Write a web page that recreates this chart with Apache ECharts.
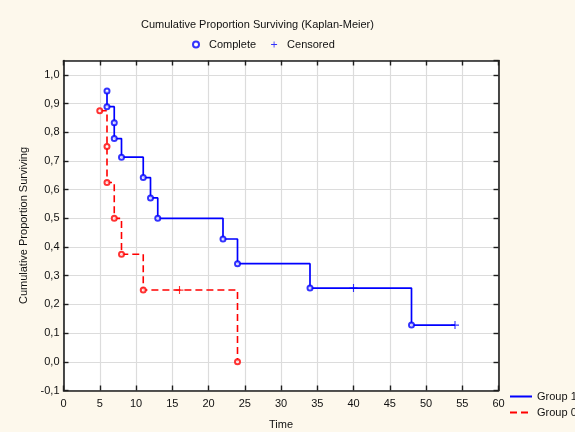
<!DOCTYPE html>
<html>
<head>
<meta charset="utf-8">
<script src="https://cdn.jsdelivr.net/npm/echarts@6/dist/echarts.min.js"></script>
<style>
  html, body { margin: 0; padding: 0; background: #fdf8ec; }
  #chart { width: 575px; height: 432px; }
</style>
</head>
<body>
<div id="chart"></div>
<script>
// Kaplan-Meier estimates: event / censoring times and survival after each time.
// Censored flag: 1 = censored observation, 0 = complete (event).
const group1Time = [6, 6, 7, 7, 8, 11, 12, 13, 22, 24, 34, 40, 48, 54];
const group1Surv = [0.944, 0.889, 0.833, 0.778, 0.713, 0.642, 0.571, 0.5, 0.428, 0.342, 0.257, 0.257, 0.128, 0.128];
const group1Censored = [0, 0, 0, 0, 0, 0, 0, 0, 0, 0, 0, 1, 0, 1];

const group0Time = [5, 6, 6, 7, 8, 11, 16, 24];
const group0Surv = [0.875, 0.75, 0.625, 0.5, 0.375, 0.25, 0.25, 0];
const group0Censored = [0, 0, 0, 0, 0, 0, 1, 0];

const xTicks = [0, 5, 10, 15, 20, 25, 30, 35, 40, 45, 50, 55, 60];
const yTicks = [-0.1, 0, 0.1, 0.2, 0.3, 0.4, 0.5, 0.6, 0.7, 0.8, 0.9, 1.0];

const BLUE = '#0000ff';
const RED = '#ff0000';
const FONT = 'Liberation Sans, Arial, sans-serif';
const PLUS = 'path://M4.3,0h1.4v10h-1.4z M0,4.3h10v1.4h-10z';

function pairs(times, surv) {
  return times.map((t, i) => [t, surv[i]]);
}
function markers(times, surv, flags, want, color) {
  const out = [];
  times.forEach((t, i) => {
    if (flags[i] === want) {
      out.push({ value: [t, surv[i]], itemStyle: { color: color, borderColor: color } });
    }
  });
  return out;
}
const fmtComma = v => {
  if (yTicks.every(t => Math.abs(t - v) > 1e-9)) return '';
  return v.toFixed(1).replace('.', ',');
};

const chart = echarts.init(document.getElementById('chart'), null, { renderer: 'canvas' });

const axisFrame = { show: true, onZero: false, lineStyle: { color: '#1e1e1e', width: 1.6 } };
const inTick = { show: true, inside: true, length: 5, lineStyle: { color: '#1e1e1e', width: 1.4 } };
const grid = { show: true, lineStyle: { color: '#dcdcdc', width: 1.2 } };
const txt = { fontSize: 11, color: '#111', fontFamily: FONT };

chart.setOption({
  backgroundColor: '#fdf8ec',
  animation: false,
  textStyle: { fontFamily: FONT },
  title: {
    text: 'Cumulative Proportion Surviving (Kaplan-Meier)',
    left: 136, top: 14,
    textStyle: Object.assign({ fontWeight: 'normal' }, txt)
  },
  legend: [
    {
      data: ['Complete', 'Censored'],
      left: 187, top: 34,
      itemWidth: 16, itemHeight: 6, itemGap: 15,
      textStyle: txt
    },
    {
      data: ['Group 1', 'Group 0'],
      orient: 'vertical',
      left: 504, top: 386,
      itemWidth: 22, itemHeight: 10, itemGap: 5,
      itemStyle: { opacity: 0 },
      textStyle: Object.assign({ overflow: 'none', width: 200 }, txt)
    }
  ],
  grid: { left: 63.5, top: 60.5, right: 76.5, bottom: 41.5, containLabel: false,
          outerBoundsMode: 'none',
          show: true, backgroundColor: '#ffffff', borderWidth: 0 },
  xAxis: [
    {
      type: 'value', min: 0, max: 60, interval: 5, position: 'bottom',
      name: 'Time', nameLocation: 'middle', nameGap: 29,
      nameTextStyle: txt,
      axisLine: axisFrame, axisTick: inTick, splitLine: grid,
      axisLabel: Object.assign({ margin: 8,
                   formatter: v => (xTicks.includes(v) ? String(v) : '') }, txt)
    },
    {
      type: 'value', min: 0, max: 60, interval: 5, position: 'top',
      axisLine: axisFrame, axisTick: inTick, splitLine: { show: false },
      axisLabel: { show: false }
    }
  ],
  yAxis: [
    {
      type: 'value', min: -0.1, max: 1.05, interval: 0.1, position: 'left',
      name: 'Cumulative Proportion Surviving', nameLocation: 'middle', nameGap: 31,
      nameTextStyle: txt,
      axisLine: axisFrame, axisTick: inTick, splitLine: grid,
      axisLabel: Object.assign({ margin: 4, showMaxLabel: false, formatter: fmtComma }, txt)
    },
    {
      type: 'value', min: -0.1, max: 1.05, interval: 0.1, position: 'right',
      axisLine: axisFrame, axisTick: inTick, splitLine: { show: false },
      axisLabel: { show: false }
    }
  ],
  series: [
    {
      name: 'Group 1', type: 'line', step: 'end', symbol: 'none',
      data: pairs(group1Time, group1Surv),
      itemStyle: { color: BLUE },
      lineStyle: { color: BLUE, width: 1.7 },
      z: 3
    },
    {
      name: 'Group 0', type: 'line', step: 'end', symbol: 'none',
      data: pairs(group0Time, group0Surv),
      itemStyle: { color: RED },
      lineStyle: { color: RED, width: 1.6, type: [7, 4] },
      z: 3
    },
    {
      name: 'Complete', type: 'scatter', symbol: 'emptyCircle', symbolSize: 5,
      itemStyle: { color: BLUE, borderColor: BLUE, borderWidth: 1.4 },
      data: markers(group1Time, group1Surv, group1Censored, 0, BLUE)
        .concat(markers(group0Time, group0Surv, group0Censored, 0, RED)),
      z: 4
    },
    {
      name: 'Censored', type: 'scatter', symbol: PLUS, symbolSize: 8,
      itemStyle: { color: BLUE, borderWidth: 0 },
      data: markers(group1Time, group1Surv, group1Censored, 1, BLUE)
        .concat(markers(group0Time, group0Surv, group0Censored, 1, RED)),
      z: 4
    }
  ]
});
</script>
</body>
</html>
